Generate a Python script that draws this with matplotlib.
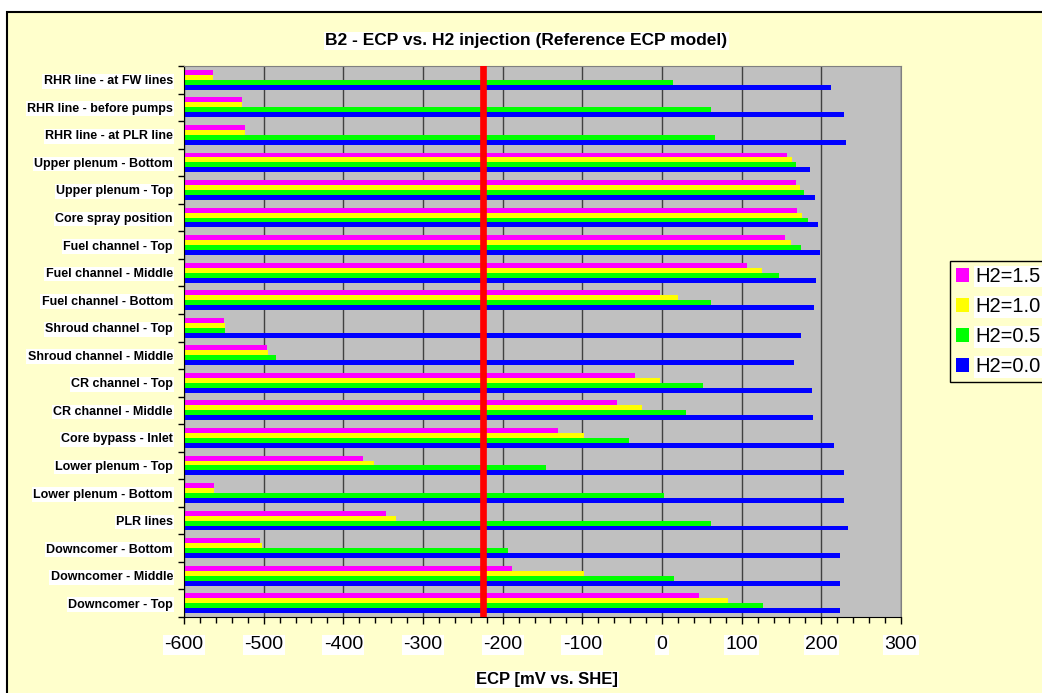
import numpy as np
import matplotlib
matplotlib.use('Agg')
import matplotlib.pyplot as plt
from matplotlib.patches import Rectangle
from matplotlib.ticker import MultipleLocator

plt.rcParams['font.family'] = ['Liberation Sans', 'DejaVu Sans']
plt.rcParams['axes.unicode_minus'] = False

# categories, bottom to top (Excel order)
locations = [
    'Downcomer - Top', 'Downcomer - Middle', 'Downcomer - Bottom', 'PLR lines',
    'Lower plenum - Bottom', 'Lower plenum - Top', 'Core bypass - Inlet',
    'CR channel - Middle', 'CR channel - Top', 'Shroud channel - Middle',
    'Shroud channel - Top', 'Fuel channel - Bottom', 'Fuel channel - Middle',
    'Fuel channel - Top', 'Core spray position', 'Upper plenum - Top',
    'Upper plenum - Bottom', 'RHR line - at PLR line', 'RHR line - before pumps',
    'RHR line - at FW lines',
]

# ECP [mV vs. SHE] for each H2 level
ecp_h2_00 = [223, 224, 224, 233, 229, 228, 216, 190, 188, 166,
             174, 191, 193, 198, 196, 192, 186, 231, 228, 212]
ecp_h2_05 = [127, 15, -193, 62, 3, -145, -41, 30, 51, -485,
             -548, 62, 147, 175, 183, 178, 168, 67, 62, 14]
ecp_h2_10 = [83, -98, -502, -334, -562, -361, -98, -25, -3, -494,
             -549, 20, 126, 162, 176, 173, 163, -524, -527, -563]
ecp_h2_15 = [47, -188, -505, -346, -562, -375, -130, -57, -34, -496,
             -550, -3, 107, 155, 169, 168, 157, -524, -527, -563]

series = [('H2=1.5', ecp_h2_15, '#FF00FF'),
          ('H2=1.0', ecp_h2_10, '#FFFF00'),
          ('H2=0.5', ecp_h2_05, '#00FF00'),
          ('H2=0.0', ecp_h2_00, '#0000FF')]

ref_ecp = -225   # red reference line
x_min, x_max = -600, 300

fig = plt.figure(figsize=(10.42, 6.93), dpi=100, facecolor='white')

# chart area background with border
fig.patches.append(Rectangle((7 / 1042, -0.1), 1.2, 1 - 12 / 693 + 0.1,
                             transform=fig.transFigure, facecolor='#FFFFCC',
                             edgecolor='black', lw=1.5, zorder=-1))

ax = fig.add_axes([184 / 1042, 1 - 617 / 693, 717 / 1042, 551 / 693])
ax.set_facecolor('#C0C0C0')

y = np.arange(len(locations))
h = 0.18
offsets = [1.5 * h, 0.5 * h, -0.5 * h, -1.5 * h]
for (name, vals, col), off in zip(series, offsets):
    vals = np.array(vals)
    ax.barh(y + off, vals - x_min, left=x_min, height=h, color=col,
            label=name, zorder=2)

ax.axvline(ref_ecp, color='#FF0000', lw=4.8, zorder=3)

ax.set_xlim(x_min, x_max)
ax.set_ylim(-0.5, len(locations) - 0.5)

ax.xaxis.set_major_locator(MultipleLocator(100))
ax.xaxis.set_minor_locator(MultipleLocator(20))
ax.grid(axis='x', which='major', color='#404040', lw=1, zorder=1)
ax.set_axisbelow(True)
ax.tick_params(axis='x', which='major', direction='out', length=5, width=1,
               labelsize=14, pad=9)
ax.tick_params(axis='x', which='minor', direction='out', length=4, width=1)

ax.set_yticks(y)
ax.set_yticklabels(locations, fontweight='bold', fontsize=9)
ax.set_yticks(np.arange(len(locations) + 1) - 0.5, minor=True)
ax.tick_params(axis='y', which='major', length=0, pad=8)
ax.tick_params(axis='y', which='minor', direction='out', length=4, width=1)

for lab in ax.get_xticklabels() + ax.get_yticklabels():
    lab.set_bbox(dict(facecolor='white', edgecolor='none', pad=1))

for s in ['top', 'right']:
    ax.spines[s].set_color('#808080')
ax.spines['left'].set_color('black')
ax.spines['bottom'].set_color('black')

ax.set_xlabel('ECP [mV vs. SHE]', fontsize=12, fontweight='bold',
              bbox=dict(facecolor='white', edgecolor='none', pad=1))
ax.xaxis.set_label_coords(0.506, -0.1)

fig.text(0.505, 1 - 41 / 693, 'B2 - ECP vs. H2 injection (Reference ECP model)',
         ha='center', va='center', fontsize=12.5, fontweight='bold',
         bbox=dict(facecolor='white', edgecolor='none', pad=1))

leg = ax.legend(loc='upper left', bbox_to_anchor=(950 / 1042, 1 - 261 / 693),
                bbox_transform=fig.transFigure, fontsize=14.5, frameon=True,
                fancybox=False, edgecolor='black', facecolor='#FFFFCC',
                framealpha=1, handlelength=0.65, handleheight=0.65,
                handletextpad=0.3, labelspacing=0.55, borderpad=0.3,
                borderaxespad=0)
leg.get_frame().set_linewidth(1)
for t in leg.get_texts():
    t.set_bbox(dict(facecolor='white', edgecolor='none', pad=1))

fig.savefig('out.png', dpi=100)
